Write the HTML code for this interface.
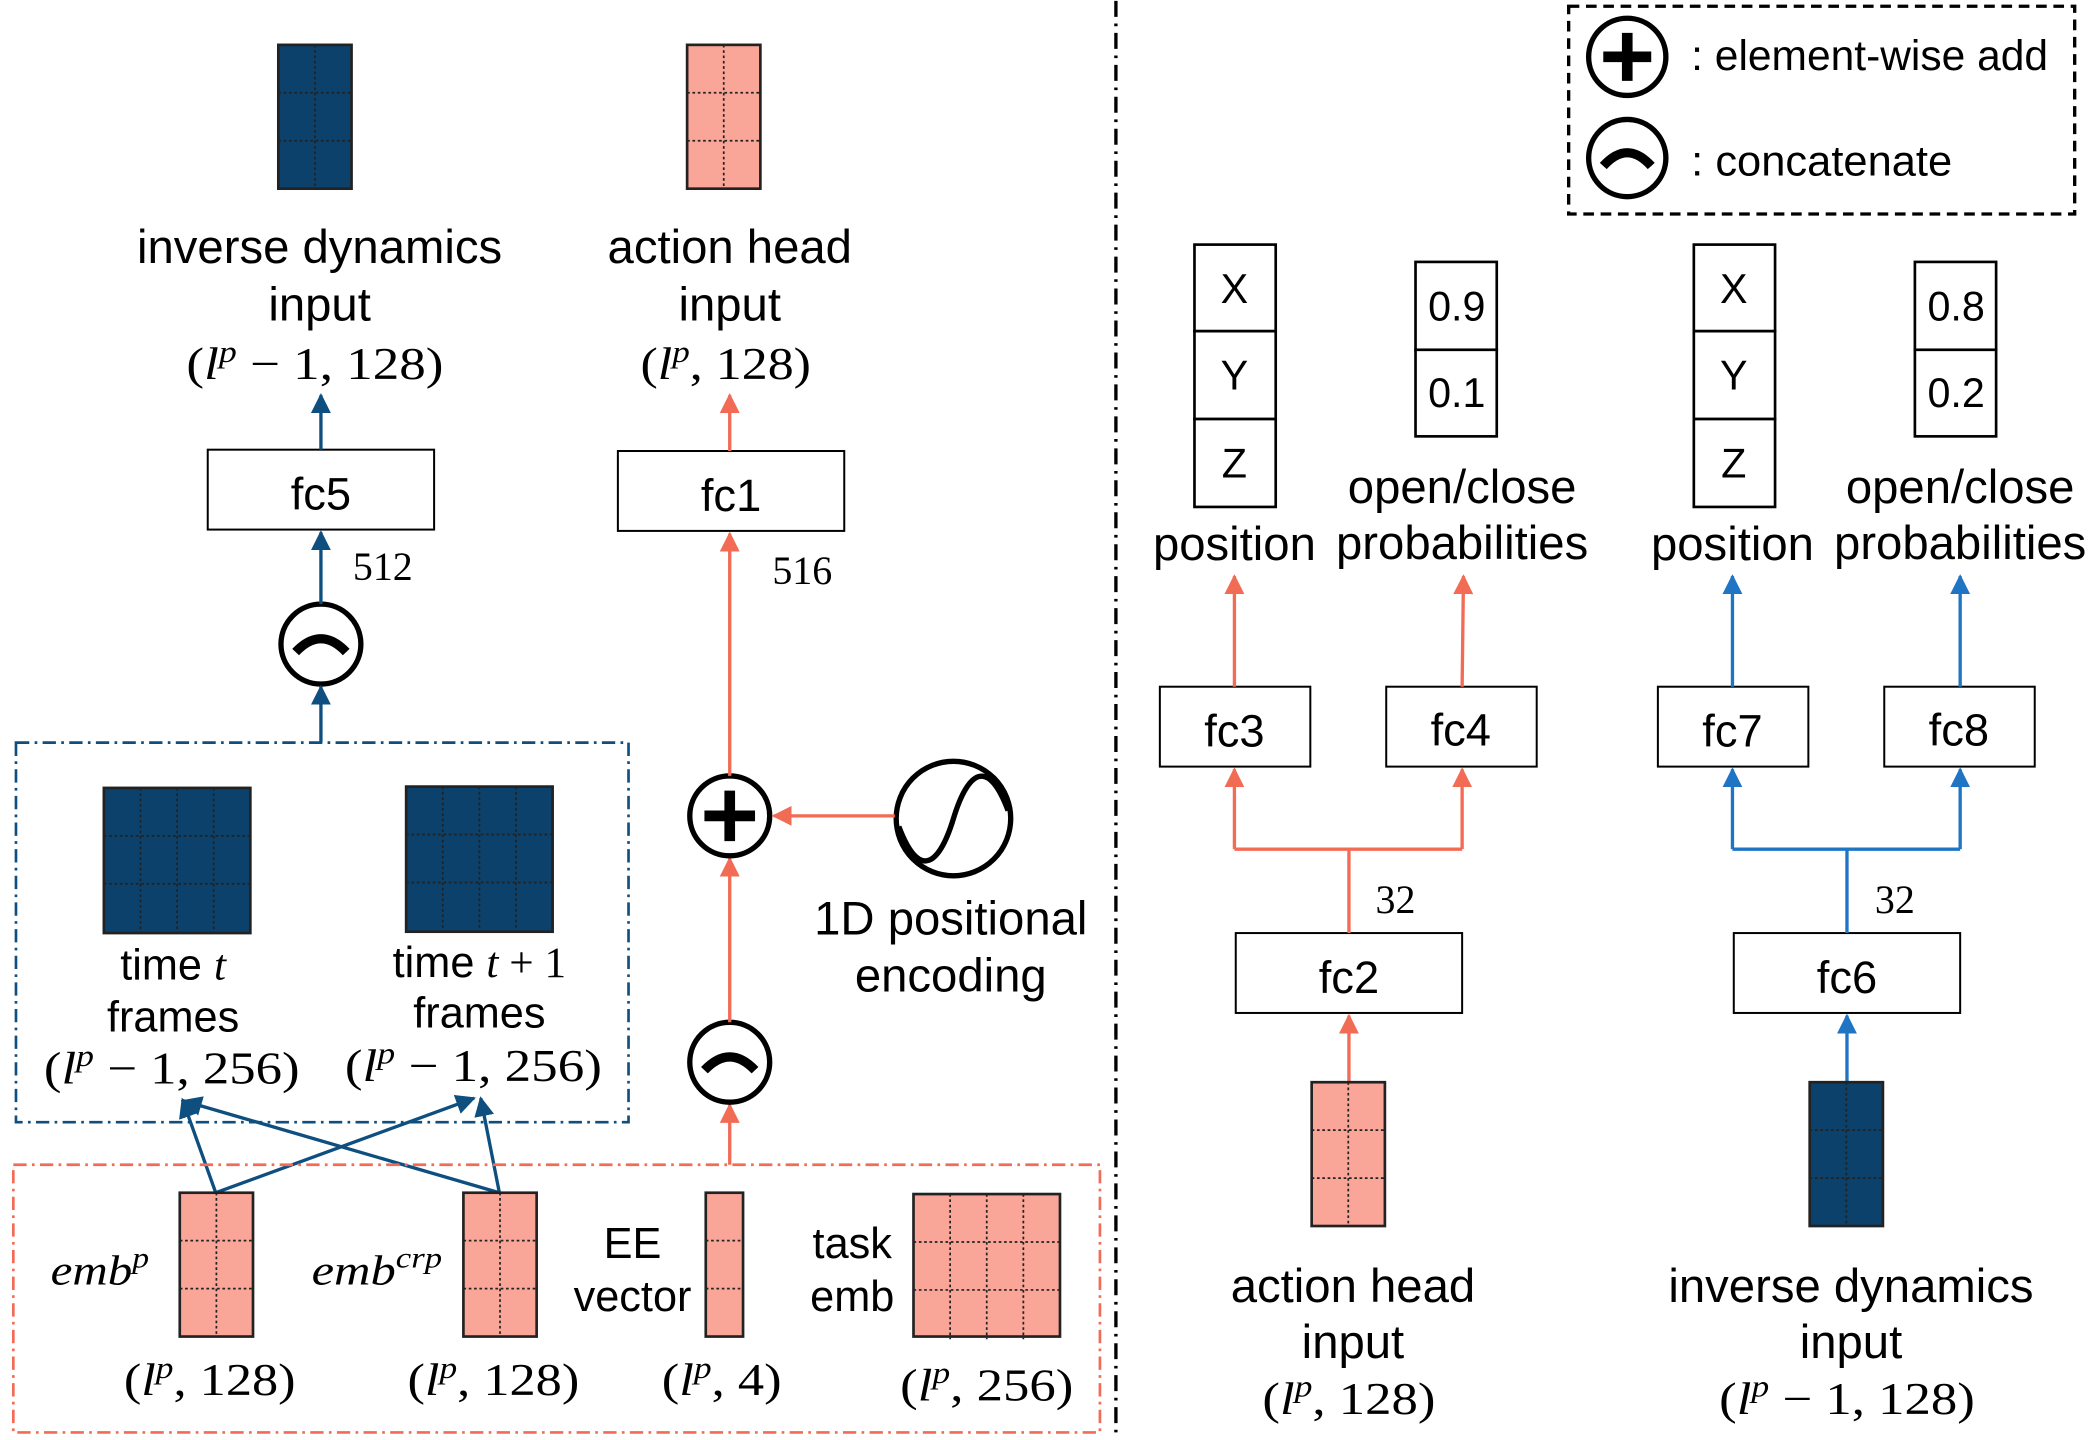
<!DOCTYPE html>
<html><head><meta charset="utf-8"><style>
html,body{margin:0;padding:0;background:#fff;}
svg{display:block}
text{font-family:"Liberation Sans",sans-serif;fill:#000;}
.s{font-family:"Liberation Serif",serif;}
</style></head><body>
<svg width="2088" height="1440" viewBox="0 0 1568 1080" xmlns="http://www.w3.org/2000/svg">
<defs>
<marker id="ab" viewBox="0 0 10 10" refX="9" refY="5" markerWidth="6" markerHeight="6" orient="auto"><path d="M0,0L10,5L0,10z" fill="#0e4f80"/></marker>
<marker id="ab2" viewBox="0 0 10 10" refX="9" refY="5" markerWidth="6" markerHeight="6" orient="auto"><path d="M0,0L10,5L0,10z" fill="#1f74c4"/></marker>
<marker id="ap" viewBox="0 0 10 10" refX="9" refY="5" markerWidth="6" markerHeight="6" orient="auto"><path d="M0,0L10,5L0,10z" fill="#f26b55"/></marker>
<g id="tall">
<line x1="27.5" y1="0" x2="27.5" y2="108" stroke="#222" stroke-width="1.3" stroke-dasharray="2,2"/>
<line x1="0" y1="36" x2="55" y2="36" stroke="#222" stroke-width="1.3" stroke-dasharray="2,2"/>
<line x1="0" y1="72" x2="55" y2="72" stroke="#222" stroke-width="1.3" stroke-dasharray="2,2"/>
</g>
<g id="sq">
<line x1="27.5" y1="0" x2="27.5" y2="109" stroke="#222" stroke-width="1.3" stroke-dasharray="2,2"/>
<line x1="55" y1="0" x2="55" y2="109" stroke="#222" stroke-width="1.3" stroke-dasharray="2,2"/>
<line x1="82.5" y1="0" x2="82.5" y2="109" stroke="#222" stroke-width="1.3" stroke-dasharray="2,2"/>
<line x1="0" y1="36" x2="110" y2="36" stroke="#222" stroke-width="1.3" stroke-dasharray="2,2"/>
<line x1="0" y1="72" x2="110" y2="72" stroke="#222" stroke-width="1.3" stroke-dasharray="2,2"/>
</g>
</defs>

<line x1="838" y1="0" x2="838" y2="1080" stroke="#000" stroke-width="2.5" stroke-dasharray="12,5,2,5"/>

<rect x="1178" y="4" width="380" height="156" fill="none" stroke="#000" stroke-width="2.5" stroke-dasharray="8,5"/>
<circle cx="1222" cy="42" r="29" fill="#fff" stroke="#000" stroke-width="4"/>
<path d="M1204,42H1240M1222,24V60" stroke="#000" stroke-width="8"/>
<text x="1270" y="52" font-size="32" textLength="268" lengthAdjust="spacingAndGlyphs">: element-wise add</text>
<circle cx="1222" cy="118" r="29" fill="#fff" stroke="#000" stroke-width="4"/>
<path d="M1204,124Q1222,104 1240,124" stroke="#000" stroke-width="7" fill="none"/>
<text x="1270" y="131" font-size="32" textLength="196" lengthAdjust="spacingAndGlyphs">: concatenate</text>

<rect x="209" y="33" width="55" height="108" fill="#0b416b" stroke="#222" stroke-width="2"/>
<use href="#tall" x="209" y="33"/>
<rect x="516" y="33" width="55" height="108" fill="#f9a598" stroke="#222" stroke-width="2"/>
<use href="#tall" x="516" y="33"/>
<g font-size="35.5" text-anchor="middle">
<text x="240" y="197">inverse dynamics</text>
<text x="240" y="240">input</text>
<text x="140" y="284" text-anchor="start" class="s" font-size="34" textLength="193" lengthAdjust="spacingAndGlyphs">(<tspan font-style="italic">l</tspan><tspan font-style="italic" font-size="23" dy="-13">p</tspan><tspan dy="13"> − 1, 128)</tspan></text>
<text x="548" y="197">action head</text>
<text x="548" y="240">input</text>
<text x="481" y="284" text-anchor="start" class="s" font-size="34" textLength="128" lengthAdjust="spacingAndGlyphs">(<tspan font-style="italic">l</tspan><tspan font-style="italic" font-size="23" dy="-13">p</tspan><tspan dy="13">, 128)</tspan></text>
</g>

<rect x="156" y="337" width="170" height="60" fill="#fff" stroke="#000" stroke-width="1.5"/>
<text x="241" y="382" font-size="34" text-anchor="middle">fc5</text>
<rect x="464" y="338" width="170" height="60" fill="#fff" stroke="#000" stroke-width="1.5"/>
<text x="549" y="383" font-size="34" text-anchor="middle">fc1</text>
<line x1="241" y1="337" x2="241" y2="296" stroke="#0e4f80" stroke-width="2.5" marker-end="url(#ab)"/>
<line x1="548" y1="338" x2="548" y2="296" stroke="#f26b55" stroke-width="2.5" marker-end="url(#ap)"/>
<text x="265" y="435" font-size="30" class="s">512</text>
<text x="580" y="438" font-size="30" class="s">516</text>

<circle cx="241" cy="483" r="30" fill="#fff" stroke="#000" stroke-width="4"/>
<path d="M222,489Q241,469 260,489" stroke="#000" stroke-width="7" fill="none"/>
<line x1="241" y1="453" x2="241" y2="399" stroke="#0e4f80" stroke-width="2.5" marker-end="url(#ab)"/>
<line x1="241" y1="557" x2="241" y2="515" stroke="#0e4f80" stroke-width="2.5" marker-end="url(#ab)"/>

<rect x="12" y="557" width="460" height="285" fill="none" stroke="#0e4f80" stroke-width="2" stroke-dasharray="10,4,2,4"/>
<rect x="78" y="591" width="110" height="109" fill="#0b416b" stroke="#222" stroke-width="2"/>
<use href="#sq" x="78" y="591"/>
<rect x="305" y="590" width="110" height="109" fill="#0b416b" stroke="#222" stroke-width="2"/>
<use href="#sq" x="305" y="590"/>
<g font-size="32.5" text-anchor="middle">
<text x="130" y="735">time <tspan class="s" font-style="italic">t</tspan></text>
<text x="130" y="774">frames</text>
<text x="33" y="813" text-anchor="start" class="s" font-size="34" textLength="192" lengthAdjust="spacingAndGlyphs">(<tspan font-style="italic">l</tspan><tspan font-style="italic" font-size="23" dy="-13">p</tspan><tspan dy="13"> − 1, 256)</tspan></text>
<text x="360" y="733">time <tspan class="s" font-style="italic">t</tspan><tspan class="s"> + 1</tspan></text>
<text x="360" y="771">frames</text>
<text x="259" y="811" text-anchor="start" class="s" font-size="34" textLength="193" lengthAdjust="spacingAndGlyphs">(<tspan font-style="italic">l</tspan><tspan font-style="italic" font-size="23" dy="-13">p</tspan><tspan dy="13"> − 1, 256)</tspan></text>
</g>

<g stroke="#0e4f80" stroke-width="2.5" fill="none">
<line x1="162" y1="895" x2="137" y2="825" marker-end="url(#ab)"/>
<line x1="162" y1="895" x2="356" y2="824" marker-end="url(#ab)"/>
<line x1="375" y1="895" x2="138" y2="826" marker-end="url(#ab)"/>
<line x1="375" y1="895" x2="361" y2="824" marker-end="url(#ab)"/>
</g>

<rect x="10" y="874" width="816" height="201" fill="none" stroke="#f26b55" stroke-width="2" stroke-dasharray="10,4,2,4"/>
<rect x="135" y="895" width="55" height="108" fill="#f9a598" stroke="#222" stroke-width="2"/>
<use href="#tall" x="135" y="895"/>
<rect x="348" y="895" width="55" height="108" fill="#f9a598" stroke="#222" stroke-width="2"/>
<use href="#tall" x="348" y="895"/>
<rect x="530" y="895" width="28" height="108" fill="#f9a598" stroke="#222" stroke-width="2"/>
<line x1="530" y1="931" x2="558" y2="931" stroke="#222" stroke-width="1.3" stroke-dasharray="2,2"/>
<line x1="530" y1="967" x2="558" y2="967" stroke="#222" stroke-width="1.3" stroke-dasharray="2,2"/>
<rect x="686" y="896" width="110" height="107" fill="#f9a598" stroke="#222" stroke-width="2"/>
<use href="#sq" x="686" y="896"/>
<g text-anchor="middle">
<text x="38" y="964" text-anchor="start" font-size="32" class="s" font-style="italic" textLength="74" lengthAdjust="spacingAndGlyphs">emb<tspan font-size="22" dy="-13">p</tspan></text>
<text x="234" y="964" text-anchor="start" font-size="32" class="s" font-style="italic" textLength="98" lengthAdjust="spacingAndGlyphs">emb<tspan font-size="22" dy="-13">crp</tspan></text>
<text x="475" y="944" font-size="32.5">EE</text>
<text x="475" y="984" font-size="32.5">vector</text>
<text x="640" y="944" font-size="32.5">task</text>
<text x="640" y="984" font-size="32.5">emb</text>
<g font-size="34" text-anchor="start">
<text class="s" x="93" y="1047" textLength="129" lengthAdjust="spacingAndGlyphs">(<tspan font-style="italic">l</tspan><tspan font-style="italic" font-size="23" dy="-13">p</tspan><tspan dy="13">, 128)</tspan></text>
<text class="s" x="306" y="1047" textLength="129" lengthAdjust="spacingAndGlyphs">(<tspan font-style="italic">l</tspan><tspan font-style="italic" font-size="23" dy="-13">p</tspan><tspan dy="13">, 128)</tspan></text>
<text class="s" x="497" y="1047" textLength="90" lengthAdjust="spacingAndGlyphs">(<tspan font-style="italic">l</tspan><tspan font-style="italic" font-size="23" dy="-13">p</tspan><tspan dy="13">, 4)</tspan></text>
<text class="s" x="676" y="1051" textLength="130" lengthAdjust="spacingAndGlyphs">(<tspan font-style="italic">l</tspan><tspan font-style="italic" font-size="23" dy="-13">p</tspan><tspan dy="13">, 256)</tspan></text>
</g>
</g>

<line x1="548" y1="874" x2="548" y2="829" stroke="#f26b55" stroke-width="2.5" marker-end="url(#ap)"/>
<circle cx="548" cy="797" r="30" fill="#fff" stroke="#000" stroke-width="4"/>
<path d="M529,803Q548,783 567,803" stroke="#000" stroke-width="7" fill="none"/>
<line x1="548" y1="767" x2="548" y2="644" stroke="#f26b55" stroke-width="2.5" marker-end="url(#ap)"/>
<circle cx="548" cy="612" r="30" fill="#fff" stroke="#000" stroke-width="4"/>
<path d="M529,612H567M548,593V631" stroke="#000" stroke-width="8"/>
<line x1="548" y1="582" x2="548" y2="400" stroke="#f26b55" stroke-width="2.5" marker-end="url(#ap)"/>
<circle cx="716" cy="614" r="43" fill="#fff" stroke="#000" stroke-width="4"/>
<path d="M675,620C690,660 705,650 716,614C727,578 742,568 757,608" stroke="#000" stroke-width="4" fill="none"/>
<line x1="672" y1="612" x2="581" y2="612" stroke="#f26b55" stroke-width="2.5" marker-end="url(#ap)"/>
<text x="714" y="701" font-size="35.5" text-anchor="middle">1D positional</text>
<text x="714" y="744" font-size="35.5" text-anchor="middle">encoding</text>

<g fill="#fff" stroke="#000" stroke-width="2">
<rect x="897" y="183" width="61" height="65"/><rect x="897" y="248" width="61" height="66"/><rect x="897" y="314" width="61" height="66"/>
<rect x="1063" y="196" width="61" height="66"/><rect x="1063" y="262" width="61" height="65"/>
<rect x="1272" y="183" width="61" height="65"/><rect x="1272" y="248" width="61" height="66"/><rect x="1272" y="314" width="61" height="66"/>
<rect x="1438" y="196" width="61" height="66"/><rect x="1438" y="262" width="61" height="65"/>
</g>
<g font-size="31" text-anchor="middle">
<text x="927" y="227">X</text><text x="927" y="292">Y</text><text x="927" y="358">Z</text>
<text x="1094" y="240">0.9</text><text x="1094" y="305">0.1</text>
<text x="1302" y="227">X</text><text x="1302" y="292">Y</text><text x="1302" y="358">Z</text>
<text x="1469" y="240">0.8</text><text x="1469" y="305">0.2</text>
<g font-size="35.5">
<text x="927" y="420">position</text>
<text x="1098" y="377">open/close</text>
<text x="1098" y="419">probabilities</text>
<text x="1301" y="420">position</text>
<text x="1472" y="377">open/close</text>
<text x="1472" y="419">probabilities</text>
</g>
</g>

<g fill="#fff" stroke="#000" stroke-width="1.5">
<rect x="871" y="515" width="113" height="60"/><rect x="1041" y="515" width="113" height="60"/>
<rect x="1245" y="515" width="113" height="60"/><rect x="1415" y="515" width="113" height="60"/>
<rect x="928" y="700" width="170" height="60"/><rect x="1302" y="700" width="170" height="60"/>
</g>
<g font-size="34" text-anchor="middle">
<text x="927" y="560">fc3</text><text x="1097" y="559">fc4</text>
<text x="1301" y="560">fc7</text><text x="1471" y="559">fc8</text>
<text x="1013" y="745">fc2</text><text x="1387" y="745">fc6</text>
</g>

<g stroke="#f26b55" stroke-width="2.5" fill="none">
<line x1="927" y1="515" x2="927" y2="432" marker-end="url(#ap)"/>
<line x1="1098" y1="515" x2="1099" y2="432" marker-end="url(#ap)"/>
<path d="M1013,700V637"/><path d="M927,637H1098"/>
<line x1="927" y1="637" x2="927" y2="577" marker-end="url(#ap)"/>
<line x1="1098" y1="637" x2="1098" y2="577" marker-end="url(#ap)"/>
<line x1="1013" y1="812" x2="1013" y2="762" marker-end="url(#ap)"/>
</g>
<g stroke="#1f74c4" stroke-width="2.5" fill="none">
<line x1="1301" y1="515" x2="1301" y2="432" marker-end="url(#ab2)"/>
<line x1="1472" y1="515" x2="1472" y2="432" marker-end="url(#ab2)"/>
<path d="M1387,700V637"/><path d="M1301,637H1472"/>
<line x1="1301" y1="637" x2="1301" y2="577" marker-end="url(#ab2)"/>
<line x1="1472" y1="637" x2="1472" y2="577" marker-end="url(#ab2)"/>
<line x1="1387" y1="812" x2="1387" y2="762" marker-end="url(#ab2)"/>
</g>
<text x="1033" y="685" font-size="30" class="s">32</text>
<text x="1408" y="685" font-size="30" class="s">32</text>

<rect x="985" y="812" width="55" height="108" fill="#f9a598" stroke="#222" stroke-width="2"/>
<use href="#tall" x="985" y="812"/>
<rect x="1359" y="812" width="55" height="108" fill="#0b416b" stroke="#222" stroke-width="2"/>
<use href="#tall" x="1359" y="812"/>
<g font-size="35.5" text-anchor="middle">
<text x="1016" y="977">action head</text>
<text x="1016" y="1019">input</text>
<text x="948" y="1061" text-anchor="start" class="s" font-size="34" textLength="130" lengthAdjust="spacingAndGlyphs">(<tspan font-style="italic">l</tspan><tspan font-style="italic" font-size="23" dy="-13">p</tspan><tspan dy="13">, 128)</tspan></text>
<text x="1390" y="977">inverse dynamics</text>
<text x="1390" y="1019">input</text>
<text x="1291" y="1061" text-anchor="start" class="s" font-size="34" textLength="192" lengthAdjust="spacingAndGlyphs">(<tspan font-style="italic">l</tspan><tspan font-style="italic" font-size="23" dy="-13">p</tspan><tspan dy="13"> − 1, 128)</tspan></text>
</g>
</svg>
</body></html>
